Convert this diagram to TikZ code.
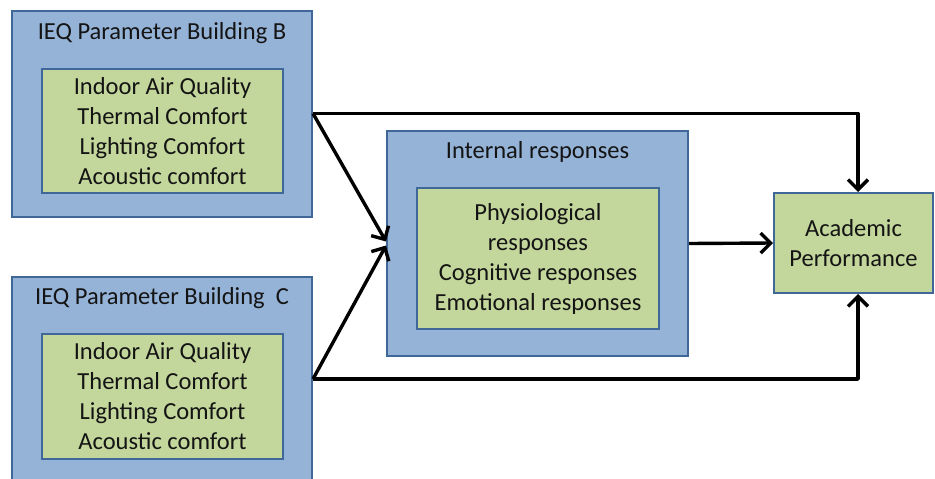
\documentclass[tikz,border=0pt]{standalone}
\usepackage{fontspec}
\setmainfont{Carlito}
\usetikzlibrary{arrows.meta}
\definecolor{bluefill}{HTML}{95B3D7}
\definecolor{edgeblue}{HTML}{3F6797}
\definecolor{greenfill}{HTML}{C3D69B}
\begin{document}
\begin{tikzpicture}[x=1pt,y=-1pt,
  outerbox/.style={draw=edgeblue,line width=2pt,fill=bluefill,rectangle,inner sep=0pt},
  innerbox/.style={draw=edgeblue,line width=2pt,fill=greenfill,rectangle,inner sep=0pt,align=center,
     font=\fontsize{24.5}{30}\selectfont,text=black!92},
  titletext/.style={font=\fontsize{24.5}{30}\selectfont,text=black!92,inner sep=0pt},
  conn/.style={line width=3.4pt,line join=round,-{Straight Barb[length=10pt,width=20pt,line width=3.4pt]}}]
\useasboundingbox (0,0) rectangle (935,479);
\clip (0,0) rectangle (935,479);
% Building B
\node[outerbox,minimum width=300pt,minimum height=206pt] (B) at (162,113.5) {};
\node[titletext] (Bt) at (162,33) {IEQ Parameter Building B};
\node[innerbox,minimum width=241pt,minimum height=124pt] (Bi) at (162.5,131) {Indoor Air Quality\\Thermal Comfort\\Lighting Comfort\\Acoustic comfort};
% Building C
\node[outerbox,minimum width=300pt,minimum height=204pt] (C) at (162,379) {};
\node[titletext] (Ct) at (162,298) {IEQ Parameter Building\ \ C};
\node[innerbox,minimum width=241pt,minimum height=125pt] (Ci) at (162.5,396.5) {Indoor Air Quality\\Thermal Comfort\\Lighting Comfort\\Acoustic comfort};
% Internal responses
\node[outerbox,minimum width=301pt,minimum height=225pt] (I) at (537.5,243.5) {};
\node[titletext] (It) at (537.5,152) {Internal responses};
\node[innerbox,minimum width=242pt,minimum height=141pt] (Ii) at (538,258.5) {Physiological\\responses\\Cognitive responses\\Emotional responses};
% Academic performance
\node[innerbox,minimum width=159pt,minimum height=100pt] (AP) at (853.5,243) {Academic\\Performance};
% connectors
\draw[conn] (B.east) -| ([xshift=4.5pt]AP.north);
\draw[conn] (C.east) -| ([xshift=4.5pt]AP.south);
\draw[conn] (B.east) -- ([yshift=2pt]I.west);
\draw[conn] (C.east) -- ([yshift=-2pt]I.west);
\draw[conn] (I.east) -- (AP.west);
\end{tikzpicture}
\end{document}
